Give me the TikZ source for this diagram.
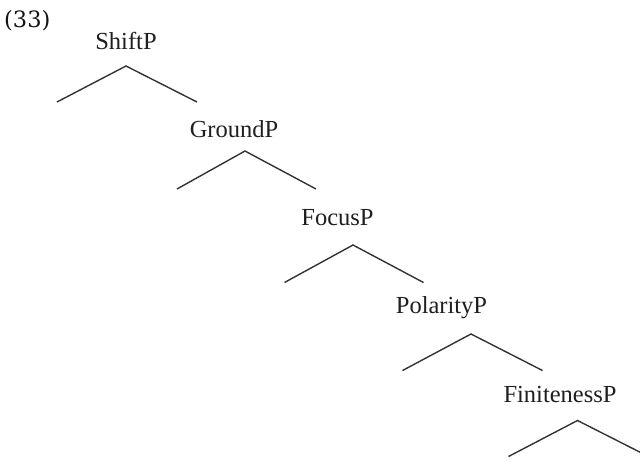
\documentclass[tikz,border=0pt]{standalone}
\usepackage{fontspec}
\setmainfont{Liberation Serif}
\newfontfamily\numfont{DejaVu Serif}
\begin{document}
\begin{tikzpicture}[x=1pt,y=-1pt,
  lbl/.style={anchor=base,inner sep=0pt,text=black!88,font=\fontsize{24.5}{29}\selectfont},
  branch/.style={draw=black!80,line width=1.4pt}]
\useasboundingbox (0,0) rectangle (640,461);
\clip (0,0) rectangle (640,461);
\node[anchor=base west,inner sep=0pt,text=black!92,font=\numfont\fontsize{22.5}{27}\selectfont] (num) at (4,27) {(33)};
\node[lbl] (shift) at (126,49.5) {ShiftP};
\node[lbl] (ground) at (234,137) {GroundP};
\node[lbl] (focus) at (337.5,225) {FocusP};
\node[lbl] (pol) at (441.5,313) {PolarityP};
\node[lbl] (fin) at (560,402.5) {FinitenessP};
% peaks and leg ends
\coordinate (p1) at (126,66);
\coordinate (l1) at (57,102);
\coordinate (r1) at (197,102);
\coordinate (p2) at (245,151);
\coordinate (l2) at (177,189);
\coordinate (r2) at (316,189);
\coordinate (p3) at (353,245);
\coordinate (l3) at (284.5,282.5);
\coordinate (r3) at (423.5,282.5);
\coordinate (p4) at (471,334);
\coordinate (l4) at (402.5,370.5);
\coordinate (r4) at (542.5,370.5);
\coordinate (p5) at (577.5,420.5);
\coordinate (l5) at (508.5,456.5);
\coordinate (r5) at (648.5,456.5);
\draw[branch] (l1) -- (p1) -- (r1);
\draw[branch] (l2) -- (p2) -- (r2);
\draw[branch] (l3) -- (p3) -- (r3);
\draw[branch] (l4) -- (p4) -- (r4);
\draw[branch] (l5) -- (p5) -- (r5);
\end{tikzpicture}
\end{document}
